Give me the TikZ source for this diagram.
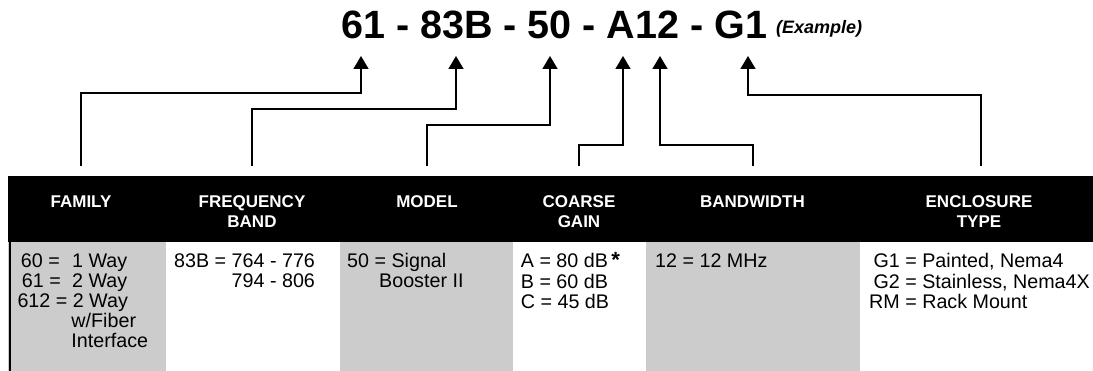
\documentclass[tikz,border=0pt]{standalone}
\usepackage{fontspec}
\setmainfont{Liberation Sans}
\usetikzlibrary{arrows.meta}
\definecolor{cellgray}{RGB}{204,204,204}
\begin{document}
\begin{tikzpicture}[x=1pt,y=-1pt,
  conn/.style={line width=1.6pt,-{Triangle[length=13pt,width=15pt]}},
  head/.style={text=white,font=\fontsize{17}{20}\selectfont\bfseries,inner sep=0pt,anchor=base},
  body/.style={font=\fontsize{19.7}{19.5}\selectfont,inner sep=0pt,anchor=base west},
  graycell/.style={fill=cellgray,draw=none}]
\useasboundingbox (0,0) rectangle (1093,371);
% title
\node[inner sep=0pt,anchor=base west,font=\fontsize{39.5}{40}\selectfont\bfseries] (title) at (341,39) {61 - 83B - 50 - A12 - G1};
\node[inner sep=0pt,anchor=base west,font=\fontsize{18}{18}\selectfont\bfseries\itshape] (example) at (776,34) {(Example)};
% table background
\fill[black] (8,176) rectangle (1093,242);
\fill[graycell] (8,242) rectangle (166,371);
\fill[graycell] (340,242) rectangle (513,371);
\fill[graycell] (646,242) rectangle (860,371);
\draw[line width=2pt] (9.5,242) -- (9.5,371);
% headings
\node[head] (hFam) at (81,207.3) {FAMILY};
\node[head] (hFreq) at (252,207.3) {\begin{tabular}[t]{@{}c@{}}FREQUENCY\\BAND\end{tabular}};
\node[head] (hMod) at (427,207.3) {MODEL};
\node[head] (hGain) at (579,207.3) {\begin{tabular}[t]{@{}c@{}}COARSE\\GAIN\end{tabular}};
\node[head] (hBw) at (752.5,207.3) {BANDWIDTH};
\node[head] (hEnc) at (979,207.3) {\begin{tabular}[t]{@{}c@{}}ENCLOSURE\\TYPE\end{tabular}};
% body
\node[body] (bFam) at (17.3,268) {\begin{tabular}[t]{@{}l@{}}\makebox[54.7pt][l]{\hspace{3.4pt}60 =}1 Way\\\makebox[54.7pt][l]{\hspace{4.4pt}61 =}2 Way\\612 = 2 Way\\\hspace{54pt}w/Fiber\\\hspace{54pt}Interface\end{tabular}};
\node[body] (bFreq) at (174,268) {\begin{tabular}[t]{@{}r@{}}83B = 764 - 776\\794 - 806\end{tabular}};
\node[body] (bMod) at (347,268) {\begin{tabular}[t]{@{}l@{}}50 = Signal\\\hspace{32pt}Booster II\end{tabular}};
\node[body] (bGain) at (520.7,268) {\begin{tabular}[t]{@{}l@{}}A = 80 dB\,{\fontsize{22}{22}\selectfont\bfseries *}\\B = 60 dB\\C = 45 dB\end{tabular}};
\node[body] (bBw) at (655,268) {12 = 12 MHz};
\node[body] (bEnc) at (869,268) {\begin{tabular}[t]{@{}r@{\ =\ }l@{}}G1&Painted, Nema4\\G2&Stainless, Nema4X\\RM&Rack Mount\end{tabular}};
% connector coordinates
\coordinate (sFam) at (81,166);   \coordinate (mFam) at (361,93);  \coordinate (aFam) at (361,56);
\coordinate (sFreq) at (252,166); \coordinate (mFreq) at (456,109); \coordinate (aFreq) at (456,56);
\coordinate (sMod) at (427,166);  \coordinate (mMod) at (550,125);  \coordinate (aMod) at (550,56);
\coordinate (sGain) at (579,166); \coordinate (mGain) at (623,145); \coordinate (aGain) at (623,56);
\coordinate (sBw) at (753,166);   \coordinate (mBw) at (660,145);   \coordinate (aBw) at (660,56);
\coordinate (sEnc) at (981,166);  \coordinate (mEnc) at (748,95);   \coordinate (aEnc) at (748,56);
\draw[conn] (sFam) |- (mFam) -- (aFam);
\draw[conn] (sFreq) |- (mFreq) -- (aFreq);
\draw[conn] (sMod) |- (mMod) -- (aMod);
\draw[conn] (sGain) |- (mGain) -- (aGain);
\draw[conn] (sBw) |- (mBw) -- (aBw);
\draw[conn] (sEnc) |- (mEnc) -- (aEnc);
\end{tikzpicture}
\end{document}
